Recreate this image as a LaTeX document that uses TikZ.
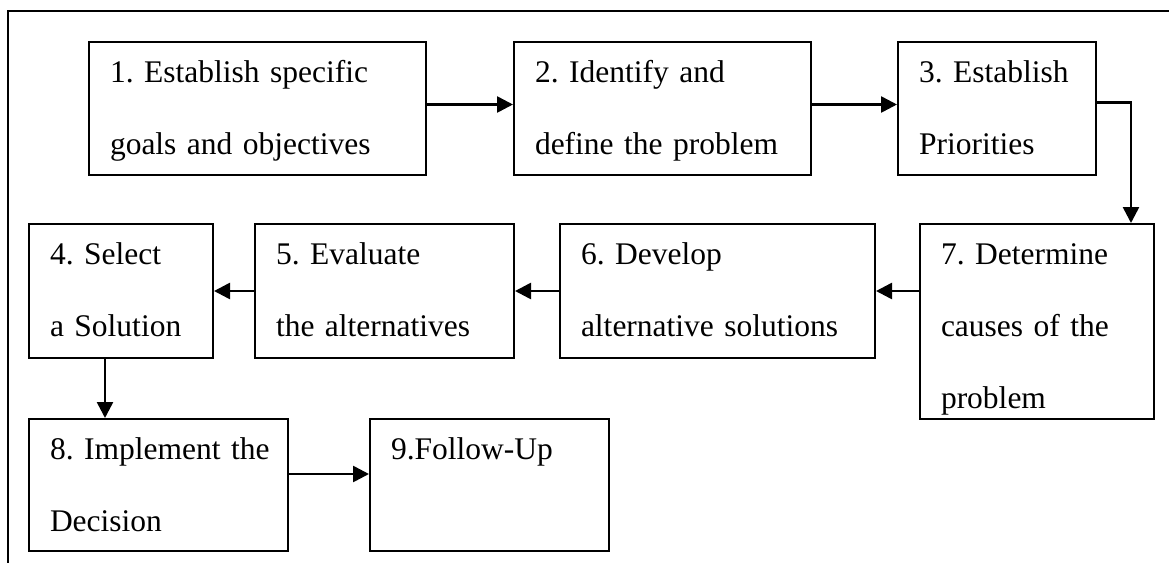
\documentclass[tikz,border=0pt]{standalone}
\usepackage{fontspec}
\setmainfont{Liberation Serif}
\usetikzlibrary{arrows.meta}
\frenchspacing

\begin{document}
\begin{tikzpicture}[x=0.5pt, y=-0.5pt,
	box/.style={draw, line width=1pt, anchor=north west, inner xsep=10.5pt, inner ysep=0pt, align=left, text height=20pt, font=\fontsize{15.75}{36}\selectfont},
	link/.style={line width=1.3pt, -{Triangle[length=8pt, width=8pt]}}]
	\useasboundingbox (0,0) rectangle (1169,563);
	%frame
	\draw[line width=0.7pt] (1169,11) -- (8,11) -- (8,563);
	
	%first row
	\node[box, text width=147.5pt, text depth=46.5pt] (s1) at (88,41) {1. Establish specific\\goals and objectives};
	\node[box, text width=127.5pt, text depth=46.5pt] (s2) at (513,41) {2. Identify and\\define the problem};
	\node[box, text width=78pt, text depth=46.5pt] (s3) at (897,41) {3. Establish\\Priorities};
	
	%second row
	\node[box, text width=71pt, text depth=47pt] (s4) at (28,223) {4. Select\\a Solution};
	\node[box, text width=108.5pt, text depth=47pt] (s5) at (254,223) {5. Evaluate\\the alternatives};
	\node[box, text width=136.5pt, text depth=47pt] (s6) at (559,223) {6. Develop\\alternative solutions};
	\node[box, text width=96pt, text depth=77.5pt] (s7) at (919,223) {7. Determine\\causes of the\\problem};
	
	%third row
	\node[box, text width=108.5pt, text depth=46pt] (s8) at (28,418) {\mbox{8. Implement the}\\Decision};
	\node[box, text width=98.5pt, text depth=46pt] (s9) at (369,418) {9.Follow-Up};
	
	%arrows
	\draw[link] ([yshift=2pt]s1.east) -- ([yshift=2pt]s1.east -| s2.west);
	\draw[link] ([yshift=2pt]s2.east) -- ([yshift=2pt]s2.east -| s3.west);
	\draw[link] ([yshift=3pt]s3.east) -| ([xshift=-12pt]s7.north east);
	\draw[link] (s7.west |- s6.east) -- (s6.east);
	\draw[link] (s6.west) -- (s5.east);
	\draw[link] (s5.west) -- (s4.east);
	\draw[link] ([xshift=-8pt]s4.south) -- ([xshift=-8pt]s4.south |- s8.north);
	\draw[link] ([yshift=5.5pt]s8.east) -- ([yshift=5.5pt]s8.east -| s9.west);
\end{tikzpicture}
\end{document}
